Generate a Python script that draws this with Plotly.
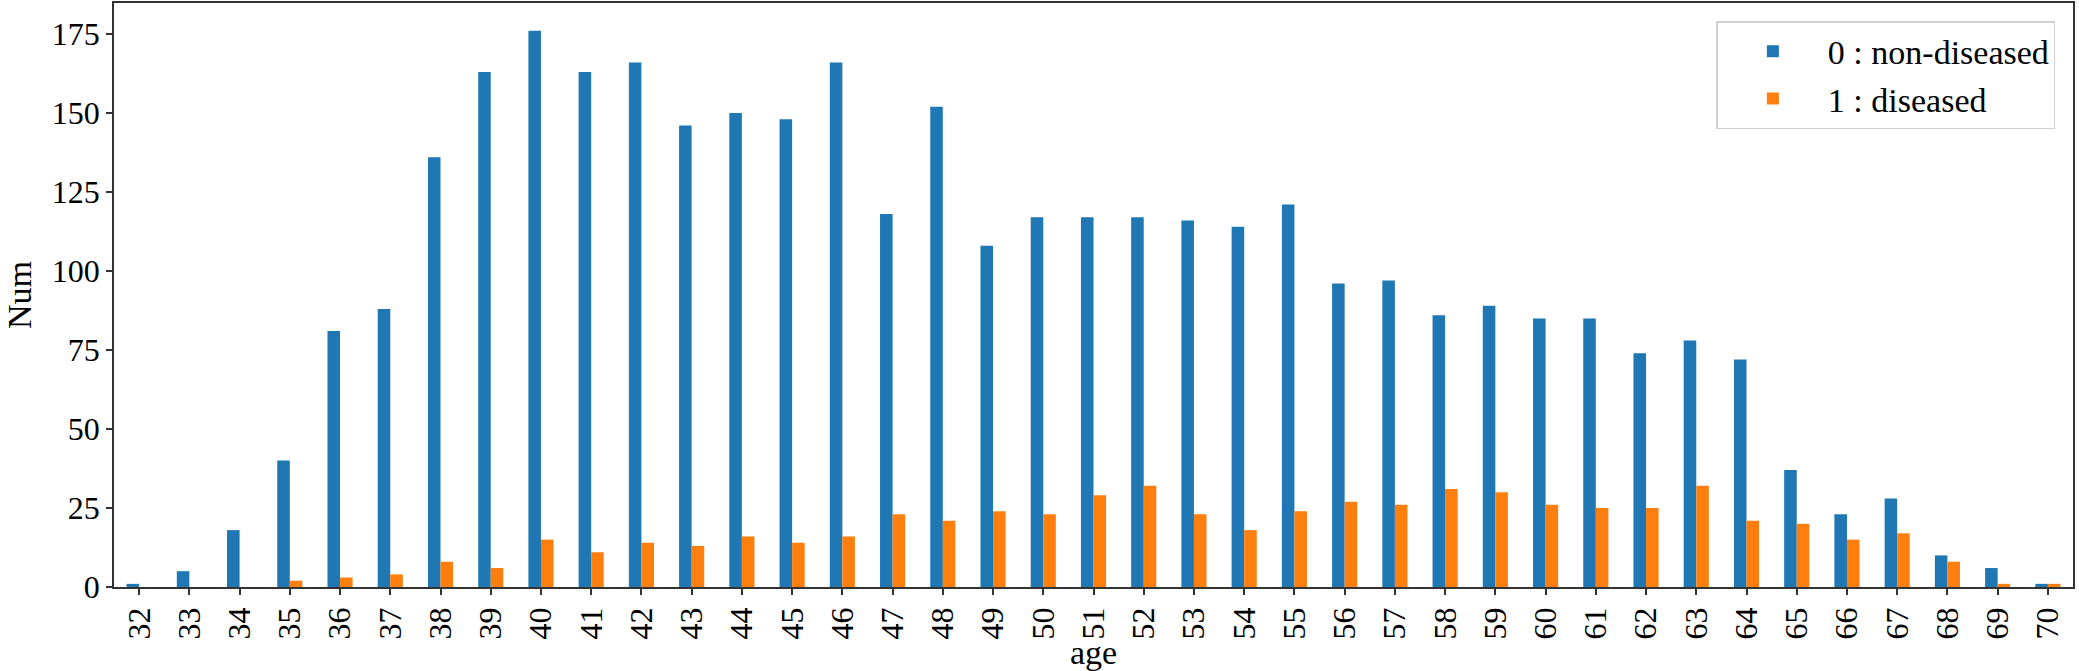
import plotly.graph_objects as go

ages = [str(a) for a in range(32, 71)]
non_diseased = [1, 5, 18, 40, 81, 88, 136, 163, 176, 163, 166, 146, 150, 148, 166, 118, 152, 108,
                117, 117, 117, 116, 114, 121, 96, 97, 86, 89, 85, 85, 74, 78, 72, 37, 23, 28, 10, 6, 1]
diseased = [0, 0, 0, 2, 3, 4, 8, 6, 15, 11, 14, 13, 16, 14, 16, 23, 21, 24,
            23, 29, 32, 23, 18, 24, 27, 26, 31, 30, 26, 25, 25, 32, 21, 20, 15, 17, 8, 1, 1]

font = "Liberation Serif, Times New Roman, serif"

axis_settings = {
    "showline": True,
    "mirror": True,
    "linecolor": "#333333",
    "linewidth": 1.5,
    "ticks": "outside",
    "ticklen": 6,
    "tickwidth": 1.5,
    "tickcolor": "#333333",
    "showgrid": False,
    "zeroline": False,
    "automargin": False,
    "tickfont": {"size": 32, "family": font, "color": "black"},
}

fig = go.Figure()
fig.add_trace(go.Bar(x=ages, y=non_diseased, name="0 : non-diseased",
                     marker={"color": "#1f77b4", "line": {"width": 0}}))
fig.add_trace(go.Bar(x=ages, y=diseased, name="1 : diseased",
                     marker={"color": "#ff7f0e", "line": {"width": 0}}))

fig.update_layout(
    width=2079,
    height=671,
    template="plotly_white",
    barmode="group",
    bargap=0.5,
    bargroupgap=0,
    margin={"l": 114, "r": 6, "t": 3, "b": 84},
    font={"family": font, "color": "black"},
    xaxis={**axis_settings, "tickangle": -90,
           "title": {"text": "age", "font": {"size": 34}, "standoff": 8}},
    yaxis={**axis_settings, "range": [0, 184.8], "tickvals": [0, 25, 50, 75, 100, 125, 150, 175],
           "title": {"text": "Num", "font": {"size": 34}, "standoff": 10}},
    legend={"x": 0.991, "xanchor": "right", "y": 0.969, "yanchor": "top",
            "bgcolor": "white", "bordercolor": "#d0d0d0", "borderwidth": 1.5,
            "itemwidth": 100,
            "font": {"size": 34, "family": font}},
    showlegend=True,
)

# drop the browser's default 8px body margin so the figure sits at the page corner
fig.write_html("out.html", config={"displayModeBar": False},
               post_script="document.body.style.margin = '0';")
